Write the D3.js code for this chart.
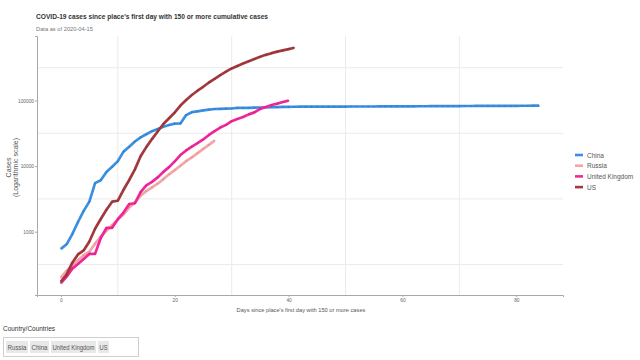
<!DOCTYPE html>
<html>
<head>
<meta charset="utf-8">
<script src="https://cdn.jsdelivr.net/npm/d3@7"></script>
<style>
  body { margin: 0; background: #fff; }
  svg { display: block; font-family: "Liberation Sans Narrow", "Arial Narrow", "Liberation Sans", Arial, sans-serif; }
</style>
</head>
<body>
<svg id="mainsvg" width="640" height="360"></svg>
<script>
// cumulative cases, one value per day since first day with >= 150 cases
const countries = ['China', 'Russia', 'United Kingdom', 'US'];
const colors = ['#3b8fe0', '#f2a7a4', '#f0269a', '#a3393d'];
const dotColors = ['#2a6fb8', '#d98c88', '#c81e7e', '#7f2a2e'];

const chinaCases = [548, 643, 920, 1406, 2075, 2877, 5509, 6087, 8141, 9802,
    11891, 16630, 19716, 23707, 27440, 30587, 34110, 36814, 39829, 42354,
    44386, 44759, 59895, 66358, 68413, 70513, 72434, 74211, 74619, 75077,
    75550, 77001, 77022, 77241, 77754, 78166, 78600, 78928, 79356, 79932,
    80136, 80261, 80386, 80537, 80690, 80770, 80823, 80860, 80887, 80921,
    80932, 80945, 80977, 81003, 81033, 81058, 81102, 81156, 81250, 81305,
    81435, 81498, 81591, 81661, 81782, 81897, 81999, 82122, 82198, 82279,
    82361, 82432, 82511, 82543, 82602, 82665, 82718, 82809, 82883, 82941,
    83014, 83134, 83213, 83306, 83356];
const russiaCases = [199, 253, 306, 367, 438, 495, 658, 840, 1036, 1264,
    1534, 1836, 2337, 2777, 3548, 4149, 4731, 5389, 6343, 7497,
    8672, 10131, 11917, 13584, 15770, 18328, 21102, 24490];
const ukCases = [164, 207, 274, 322, 384, 459, 459, 802, 1144, 1145,
    1551, 1960, 2642, 2716, 4014, 5067, 5745, 6726, 8164, 9640,
    11812, 14745, 17312, 19780, 22453, 25481, 29865, 34173, 38689, 42477,
    48436, 52279, 55949, 61474, 65872, 74605, 79874, 85206, 89570, 94845, 99483];
const usCases = [174, 222, 337, 451, 519, 711, 1109, 1561, 2157, 2870,
    2968, 4360, 6141, 8914, 14153, 19479, 25818, 33756, 43845, 53740,
    65778, 83836, 101657, 121465, 140909, 161831, 188172, 213242, 243622, 275367,
    308650, 336802, 366317, 397121, 428654, 462780, 496535, 526396, 555313, 580619,
    607670, 636350];

const xTicks = [0, 20, 40, 60, 80];
const xMinor = [10, 30, 50, 70];
const yTicks = [1000, 10000, 100000];
const yTickLabels = ['1000', '10000', '100000'];
const selected = ['Russia', 'China', 'United Kingdom', 'US'];

const series = [chinaCases, russiaCases, ukCases, usCases];

const svg = d3.select('#mainsvg');
const margin = { top: 36, right: 77, bottom: 65, left: 37 };
const width = +svg.attr('width');
const height = +svg.attr('height');
const innerWidth = width - margin.left - margin.right;
const innerHeight = height - margin.top - margin.bottom;

const data = countries.map((c, i) => ({
    name: c, color: colors[i], dot: dotColors[i],
    values: series[i].map((v, d) => ({ day: d, cases: v }))
}));

const render = function(data) {
    const all = data.flatMap(s => s.values);
    // ggplot style 5% expansion
    const xMax = d3.max(all, d => d.day);
    const xPad = xMax * 0.05;
    const xScale = d3.scaleLinear()
        .domain([-xPad, xMax + xPad])
        .range([0, innerWidth]);

    const lo = Math.log10(d3.min(all, d => d.cases));
    const hi = Math.log10(d3.max(all, d => d.cases));
    const yPad = (hi - lo) * 0.05;
    const yScale = d3.scaleLog()
        .domain([Math.pow(10, lo - yPad), Math.pow(10, hi + yPad)])
        .range([innerHeight, 0]);

    const g = svg.append('g').attr('id', 'maingroup')
        .attr('transform', `translate(${margin.left}, ${margin.top})`);

    // minor grid lines
    g.selectAll('.vgrid').data(xMinor).join('line')
        .attr('x1', d => xScale(d)).attr('x2', d => xScale(d))
        .attr('y1', 0).attr('y2', innerHeight)
        .attr('stroke', '#ebebeb').attr('stroke-width', 1);
    const yMinor = [2.5, 3.5, 4.5, 5.5].map(e => Math.pow(10, e));
    g.selectAll('.hgrid').data(yMinor).join('line')
        .attr('x1', 0).attr('x2', innerWidth)
        .attr('y1', d => yScale(d)).attr('y2', d => yScale(d))
        .attr('stroke', '#ebebeb').attr('stroke-width', 1);

    // axes
    const xAxis = d3.axisBottom(xScale).tickValues(xTicks).tickSize(2).tickPadding(2);
    const xg = g.append('g').attr('transform', `translate(0, ${innerHeight})`).call(xAxis);
    const yAxis = d3.axisLeft(yScale).tickValues(yTicks)
        .tickFormat((d, i) => yTickLabels[i]).tickSize(2).tickPadding(1);
    const yg = g.append('g').call(yAxis);
    [xg, yg].forEach(a => {
        a.attr('font-family', null).attr('font-size', null);
        a.select('.domain').attr('stroke', '#a8a8a8').attr('stroke-width', 1);
        a.selectAll('.tick line').attr('stroke', '#a8a8a8');
        a.selectAll('.tick text').attr('font-size', '4.8px').attr('fill', '#666');
    });

    // lines
    const line = d3.line()
        .x(d => xScale(d.day))
        .y(d => yScale(d.cases));

    data.forEach(s => {
        g.append('path')
            .datum(s.values)
            .attr('fill', 'none')
            .attr('stroke', s.color)
            .attr('stroke-width', 2.7)
            .attr('stroke-linejoin', 'round')
            .attr('d', line);
        g.selectAll(null).data(s.values).join('circle')
            .attr('cx', d => xScale(d.day))
            .attr('cy', d => yScale(d.cases))
            .attr('r', 0.8)
            .attr('fill', s.dot)
            .attr('opacity', 0.7);
    });

    // axis titles
    g.append('text').text("Days since place's first day with 150 or more cases")
        .attr('x', innerWidth / 2 + 1).attr('y', innerHeight + 17)
        .attr('text-anchor', 'middle').attr('font-size', '5.7px').attr('fill', '#555');
    const yt = g.append('text')
        .attr('transform', `translate(-26, ${innerHeight / 2 + 2}) rotate(-90)`)
        .attr('text-anchor', 'middle').attr('font-size', '7px').attr('fill', '#555');
    yt.append('tspan').attr('x', 0).attr('dy', 0).text('Cases');
    yt.append('tspan').attr('x', 0).attr('dy', '1.0em').text('(Logarithmic scale)');

    // legend
    const lg = svg.append('g').attr('transform', `translate(575, 155)`);
    data.forEach((s, i) => {
        const row = lg.append('g').attr('transform', `translate(0, ${i * 10.7})`);
        row.append('line').attr('x1', 0).attr('x2', 8).attr('y1', 0).attr('y2', 0)
            .attr('stroke', s.color).attr('stroke-width', 2.6);
        row.append('text').text(s.name).attr('x', 12).attr('y', 2.5)
            .attr('font-size', '6.5px').attr('fill', '#555');
    });

    // titles
    svg.append('text').text("COVID-19 cases since place's first day with 150 or more cumulative cases")
        .attr('x', 36).attr('y', 19)
        .attr('font-size', '7.4px').attr('font-weight', 'bold').attr('fill', '#333')
        .attr('textLength', 232).attr('lengthAdjust', 'spacingAndGlyphs');
    svg.append('text').text('Data as of 2020-04-15')
        .attr('x', 36).attr('y', 31)
        .attr('font-size', '6px').attr('fill', '#777')
        .attr('textLength', 57).attr('lengthAdjust', 'spacingAndGlyphs');

    // country selector widget
    svg.append('text').text('Country/Countries')
        .attr('x', 3).attr('y', 331)
        .attr('font-size', '7.2px').attr('fill', '#333')
        .attr('textLength', 52).attr('lengthAdjust', 'spacingAndGlyphs');
    svg.append('rect').attr('x', 3.5).attr('y', 337.5).attr('width', 135).attr('height', 19)
        .attr('fill', '#fff').attr('stroke', '#cfcfcf');
    const chipW = [22, 19, 45, 11];
    let cx = 6;
    selected.forEach((name, i) => {
        svg.append('rect').attr('x', cx).attr('y', 341).attr('width', chipW[i]).attr('height', 12)
            .attr('fill', '#e8e8e8');
        svg.append('text').text(name).attr('x', cx + 1.5).attr('y', 349.5)
            .attr('font-size', '6.4px').attr('fill', '#555')
            .attr('textLength', chipW[i] - 3).attr('lengthAdjust', 'spacingAndGlyphs');
        cx += chipW[i] + 2;
    });
};

render(data);
</script>
</body>
</html>
